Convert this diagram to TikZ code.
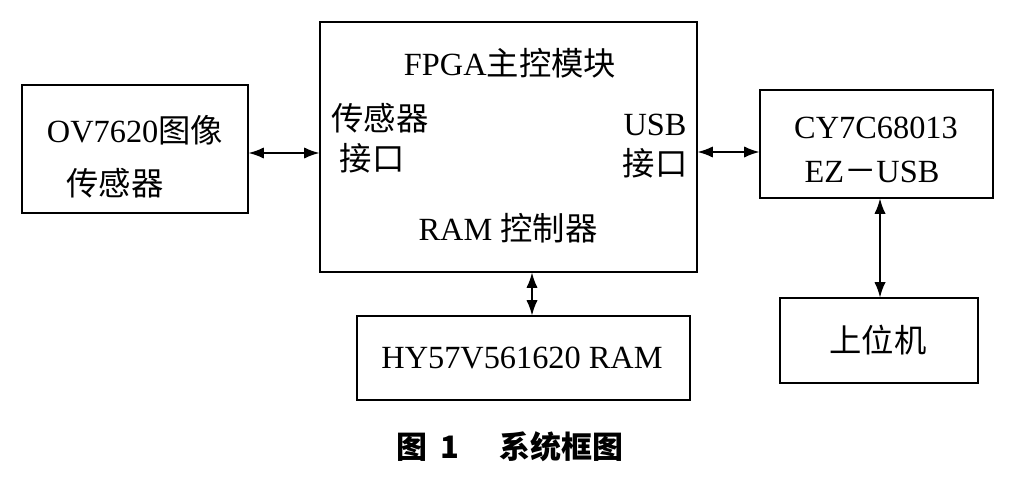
\documentclass[tikz,border=0pt]{standalone}
\usepackage{fontspec}
\setmainfont{Liberation Serif}
\newfontfamily\cjk{Noto Sans CJK SC}
\usetikzlibrary{arrows.meta}
\begin{document}
\begin{tikzpicture}[x=0.025cm,y=-0.025cm,
  box/.style={draw,line width=1.3pt},
  t/.style={font=\fontsize{23}{26}\selectfont,inner sep=0pt},
  dbl/.style={line width=1.4pt,{Latex[length=11pt,width=8pt]}-{Latex[length=11pt,width=8pt]}}]
\useasboundingbox (0,0) rectangle (1025,481);
\node (ov) at (135,149) [minimum width=5.65cm,minimum height=3.2cm] {};
\draw[box] (22,85) rectangle (248,213);
\node (fp) at (508.5,147) [minimum width=9.425cm,minimum height=6.25cm] {};
\draw[box] (320,22) rectangle (697,272);
\node (cy) at (876.5,144) [minimum width=5.825cm,minimum height=2.7cm] {};
\draw[box] (760,90) rectangle (993,198);
\node (hy) at (523.5,358) [minimum width=8.325cm,minimum height=2.1cm] {};
\draw[box] (357,316) rectangle (690,400);
\node (pc) at (879,340.5) [minimum width=4.95cm,minimum height=2.125cm] {};
\draw[box] (780,298) rectangle (978,383);
\node[t] (l1) at (135,130) {OV7620{\cjk 图像}};
\node[t] (l2) at (115,183) {\cjk 传感器};
\node[t] (l3) at (510,63) {FPGA{\cjk 主控模块}};
\node[t] (l4) at (380,118) {\cjk 传感器};
\node[t] (l5) at (372,158) {\cjk 接口};
\node[t] (l6) at (655,125) {USB};
\node[t] (l7) at (655,163) {\cjk 接口};
\node[t] (l8) at (508,228) {RAM {\cjk 控制器}};
\node[t] (l9) at (876,128) {CY7C68013};
\node[t] (l10) at (872,172) {EZ{\cjk －}USB};
\node[t] (l11) at (522,358) {HY57V561620 RAM};
\node[t] (l12) at (878,340) {\cjk 上位机};
\node[inner sep=0pt,font=\cjk\bfseries\fontsize{22}{24}\selectfont] (cap) at (510,447) {图\hspace{0.4em}1\hspace{1.3em}系统框图};
\draw[dbl] (ov.east |- 0,153) -- (fp.west |- 0,153);
\draw[dbl] (fp.east |- 0,152) -- (cy.west |- 0,152);
\draw[dbl] (fp.south -| 532,0) -- (hy.north -| 532,0);
\draw[dbl] (cy.south -| 880,0) -- (pc.north -| 880,0);
\end{tikzpicture}
\end{document}
